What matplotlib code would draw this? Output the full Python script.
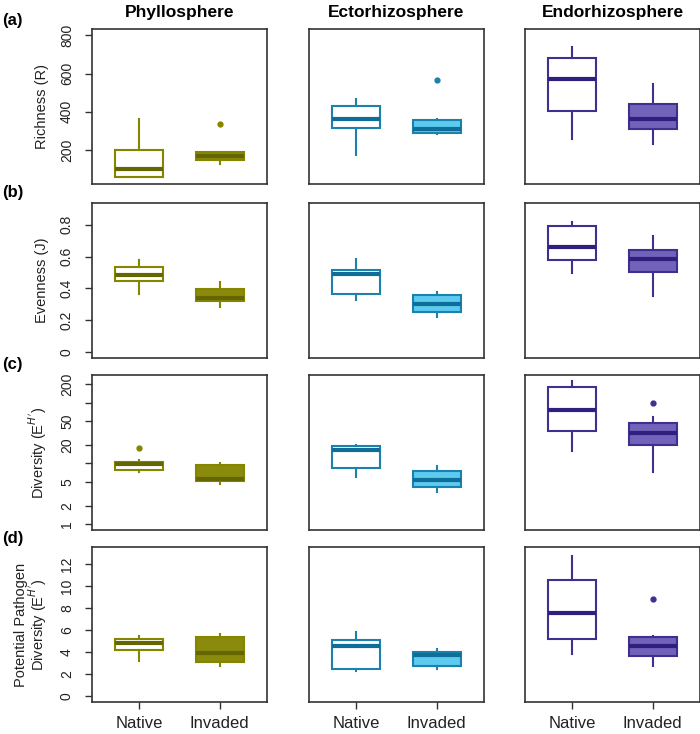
import matplotlib
matplotlib.use("Agg")
import matplotlib.pyplot as plt

plt.rcParams['font.family'] = ['Liberation Sans', 'DejaVu Sans']

sites = ["Phyllosphere", "Ectorhizosphere", "Endorhizosphere"]
groups = ["Native", "Invaded"]

# box stats per site: [whislo, q1, median, q3, whishi] for Native, Invaded
richness_phyllo = [[61, 61, 99, 200, 365], [130, 148, 169, 191, 191]]
richness_ecto = [[174, 316, 365, 431, 469], [283, 290, 309, 355, 361]]
richness_endo = [[257, 405, 570, 681, 738], [231, 313, 361, 441, 544]]
richness_out = [[[], [339]], [[], [565]], [[], []]]

evenness_phyllo = [[0.365, 0.448, 0.486, 0.535, 0.58], [0.283, 0.323, 0.34, 0.398, 0.44]]
evenness_ecto = [[0.325, 0.365, 0.492, 0.513, 0.587], [0.222, 0.253, 0.304, 0.356, 0.375]]
evenness_endo = [[0.499, 0.58, 0.66, 0.794, 0.818], [0.354, 0.505, 0.585, 0.639, 0.73]]
evenness_out = [[[], []], [[], []], [[], []]]

diversity_phyllo = [[7.3, 7.8, 9.6, 10.5, 11.3], [4.5, 5.2, 5.45, 9.3, 10.2]]
diversity_ecto = [[5.9, 8.3, 16.4, 19.1, 20.0], [3.37, 4.07, 5.3, 7.4, 8.9]]
diversity_endo = [[16.0, 33.6, 75.5, 183, 227], [7.3, 20.0, 31.2, 45.6, 58.6]]
diversity_out = [[[18], []], [[], []], [[], [99.6]]]

pathogen_phyllo = [[3.19, 4.22, 4.86, 5.23, 5.46], [2.7, 3.1, 3.95, 5.35, 5.62]]
pathogen_ecto = [[2.28, 2.46, 4.55, 5.1, 5.83], [2.46, 2.7, 3.7, 4.04, 4.32]]
pathogen_endo = [[3.8, 5.19, 7.56, 10.54, 12.72], [2.7, 3.68, 4.59, 5.35, 5.44]]
pathogen_out = [[[], []], [[], []], [[], [8.8]]]

rows = [
    ([richness_phyllo, richness_ecto, richness_endo], richness_out),
    ([evenness_phyllo, evenness_ecto, evenness_endo], evenness_out),
    ([diversity_phyllo, diversity_ecto, diversity_endo], diversity_out),
    ([pathogen_phyllo, pathogen_ecto, pathogen_endo], pathogen_out),
]
ylabels = ["Richness (R)", "Evenness (J)", "Diversity (E$^{H'}$)",
           "Potential Pathogen\nDiversity (E$^{H'}$)"]
panel_tags = ["(a)", "(b)", "(c)", "(d)"]

edge_cols = ["#858500", "#1b82ad", "#3f2f8f"]
fill_cols = ["#8a8a0c", "#5ccbef", "#7362b9"]
med_cols = ["#666600", "#0f6e98", "#2f2080"]

W, H = 700, 734
fig = plt.figure(figsize=(W / 100, H / 100), dpi=100)

col_left = [92, 309, 525]
ax_w = 175
row_top = [29, 203, 375, 547]
ax_h = 155
tag_y = [21, 193, 364, 538]

for r, (data, outs) in enumerate(rows):
    for c in range(3):
        ax = fig.add_axes([col_left[c] / W, 1 - (row_top[r] + ax_h) / H,
                           ax_w / W, ax_h / H])
        stats = []
        for g in range(2):
            lo, q1, med, q3, hi = data[c][g]
            stats.append(dict(whislo=lo, q1=q1, med=med, q3=q3, whishi=hi,
                              fliers=outs[c][g], label=groups[g]))
        bp = ax.bxp(stats, positions=[1, 2], widths=0.6, patch_artist=True,
                    showcaps=False,
                    whiskerprops=dict(color=edge_cols[c], lw=1.5),
                    flierprops=dict(marker='o', markersize=3.5,
                                    markerfacecolor=edge_cols[c],
                                    markeredgecolor=edge_cols[c]))
        for g, box in enumerate(bp['boxes']):
            box.set_facecolor('white' if g == 0 else fill_cols[c])
            box.set_edgecolor(edge_cols[c])
            box.set_linewidth(1.5)
        for m in bp['medians']:
            m.set_color(med_cols[c])
            m.set_linewidth(3)

        ax.set_xlim(0.41, 2.59)
        if r == 0:
            ax.set_ylim(23, 833)
            ax.set_yticks([200, 400, 600, 800])
        elif r == 1:
            ax.set_ylim(-0.036, 0.936)
            ax.set_yticks([0, 0.2, 0.4, 0.6, 0.8])
            ax.set_yticklabels(['0', '0.2', '0.4', '0.6', '0.8'])
        elif r == 2:
            ax.set_yscale('log')
            ax.set_ylim(0.8, 285)
            ax.set_yticks([1, 2, 5, 10, 20, 50, 100, 200])
            ax.set_yticklabels(['1', '2', '5', '', '20', '50', '', '200'])
            ax.minorticks_off()
        else:
            ax.set_ylim(-0.52, 13.52)
            ax.set_yticks([0, 2, 4, 6, 8, 10, 12])

        for s in ax.spines.values():
            s.set_color('#333333')
            s.set_linewidth(1.2)

        if c == 0:
            ax.tick_params(axis='y', length=5, width=1, color='#333333',
                           labelsize=10, labelcolor='#222222', pad=8)
            for lab in ax.get_yticklabels():
                lab.set_rotation(90)
                lab.set_va('center')
            ax.set_ylabel(ylabels[r], fontsize=10.5, color='#222222',
                          linespacing=0.95)
            ax.yaxis.set_label_coords(-0.245, 0.5)
        else:
            ax.set_yticks([])
            ax.tick_params(axis='y', left=False, labelleft=False)

        if r == 3:
            ax.set_xticks([1, 2])
            ax.set_xticklabels(groups)
            ax.tick_params(axis='x', length=5, width=1, color='#333333',
                           labelsize=12, labelcolor='#222222', pad=5)
        else:
            ax.set_xticks([])

        if r == 0:
            ax.set_title(sites[c], fontsize=12.5, fontweight='bold', pad=9)

    fig.text(2 / W, 1 - tag_y[r] / H, panel_tags[r], fontsize=12,
             fontweight='bold', va='center', ha='left')

fig.savefig("out.png", dpi=100)
